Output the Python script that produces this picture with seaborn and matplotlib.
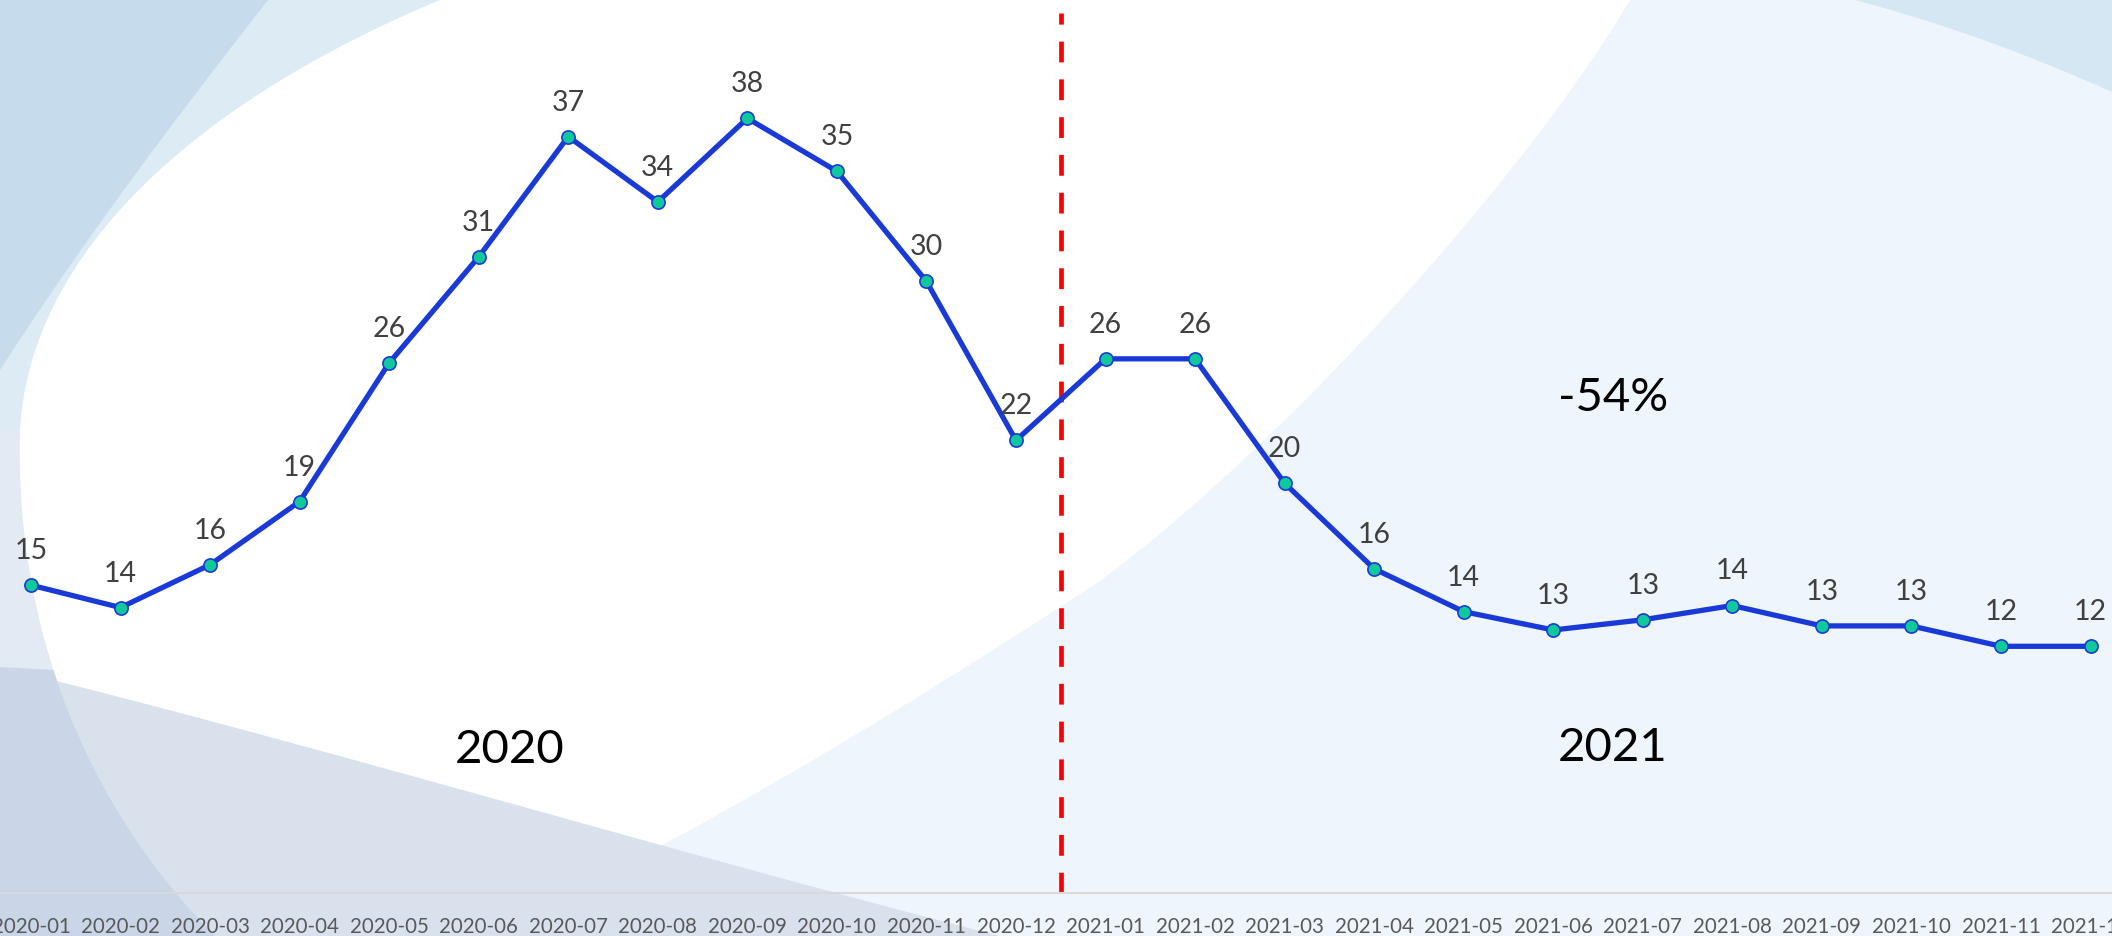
import numpy as np
import pandas as pd
import matplotlib
matplotlib.use("Agg")
import matplotlib.pyplot as plt
from matplotlib.patches import Polygon, Rectangle
import seaborn as sns

# Monthly values, 2020-01 .. 2021-12
months = ['2020-01', '2020-02', '2020-03', '2020-04', '2020-05', '2020-06',
          '2020-07', '2020-08', '2020-09', '2020-10', '2020-11', '2020-12',
          '2021-01', '2021-02', '2021-03', '2021-04', '2021-05', '2021-06',
          '2021-07', '2021-08', '2021-09', '2021-10', '2021-11', '2021-12']
values = [15.1, 14.0, 16.1, 19.2, 26.0, 31.2, 37.1, 33.9, 38.0, 35.4, 30.0, 22.2,
          26.2, 26.2, 20.1, 15.9, 13.8, 12.9, 13.4, 14.1, 13.1, 13.1, 12.1, 12.1]
year_labels = ['2020', '2021']
change_label = '-54%'

df = pd.DataFrame({'month': months, 'value': values})
df['pos'] = np.arange(len(df))

sns.set_theme(style='white')
plt.rcParams['font.family'] = ['Lato', 'DejaVu Sans']


def bez(p0, p1, p2, p3, n=40):
    # cubic bezier points, only used for the decorative background swooshes
    t = np.linspace(0, 1, n)[:, None]
    p0, p1, p2, p3 = map(np.array, (p0, p1, p2, p3))
    return list(map(tuple, (1 - t) ** 3 * p0 + 3 * (1 - t) ** 2 * t * p1
                    + 3 * (1 - t) * t ** 2 * p2 + t ** 3 * p3))


fig = plt.figure(figsize=(21.12, 9.36), dpi=100)

# Decorative background (pixel coordinates, y downwards)
bg = fig.add_axes([0, 0, 1, 1], zorder=0)
bg.set_xlim(0, 2112)
bg.set_ylim(936, 0)
bg.axis('off')
bg.add_patch(Rectangle((0, 0), 2112, 936, color='#EFF5FC', lw=0))
bg.add_patch(Rectangle((0, 0), 520, 430, color='#DDEBF5', lw=0))
bg.add_patch(Rectangle((0, 430), 320, 506, color='#E3EAF3', lw=0))

right_edge = bez((1630, 0), (1530, 170), (1290, 440), (1100, 581)) + \
    bez((1100, 581), (900, 712), (680, 845), (480, 936))
left_low = bez((215, 936), (80, 800), (15, 620), (20, 430))
left_top = bez((20, 430), (30, 250), (200, 100), (440, 0))
bg.add_patch(Polygon([(440, 0)] + right_edge + left_low + left_top, color='white', lw=0))

bg.add_patch(Polygon([(0, 0), (268, 0)] + bez((268, 0), (190, 100), (90, 230), (0, 370))[1:],
                     color='#C6DCEC', lw=0))
band_edge = bez((0, 667), (300, 740), (700, 860), (1000, 936))
bg.add_patch(Polygon(band_edge + [(0, 936)], color='#D9E1ED', lw=0))
dark_edge = [p for p in left_low[::-1] if p[1] >= 667]
bg.add_patch(Polygon([(0, 667)] + dark_edge + [(0, 936)], color='#CAD6E7', lw=0))
bg.add_patch(Polygon([(1855, 0), (2112, 0), (2112, 92)] +
                     bez((2112, 92), (2040, 60), (1960, 28), (1855, 0))[1:],
                     color='#D5E7F3', lw=0))

ax = fig.add_axes([0, 0.04594, 1, 0.95406], zorder=1)
ax.patch.set_alpha(0)

sns.lineplot(data=df, x='pos', y='value', ax=ax, color='#1A3AD8', linewidth=3.8,
             marker='o', markersize=9.5, markerfacecolor='#10C99B',
             markeredgecolor='#1A3AD8', markeredgewidth=1.2, zorder=3)

for p, v in zip(df['pos'], df['value']):
    ax.annotate(f'{v:.0f}', (p, v), xytext=(0, 24.5), textcoords='offset points',
                ha='center', va='center', fontsize=20.5, color='#404040', zorder=4)

# divider between the two years
ax.axvline(11.5, ymin=0, ymax=0.985, color='#FF0000', linewidth=3.4,
           dashes=(4.4, 3.6), zorder=2)

ax.text(5.35, 7.0, year_labels[0], ha='center', va='center', fontsize=34, color='black')
ax.text(17.66, 7.1, year_labels[1], ha='center', va='center', fontsize=34, color='black')
ax.text(17.67, 24.3, change_label, ha='center', va='center', fontsize=34, color='black')

ax.set_xlim(-0.346, 23.24)
ax.set_ylim(0, 43.8)
ax.set_xticks(df['pos'])
ax.set_xticklabels(df['month'])
ax.tick_params(axis='x', length=0, pad=17, labelsize=14.8, labelcolor='#595959')
ax.set_yticks([])
ax.set_xlabel('')
ax.set_ylabel('')
for side in ['top', 'left', 'right']:
    ax.spines[side].set_visible(False)
ax.spines['bottom'].set_color('#D9D9D9')
ax.spines['bottom'].set_linewidth(1.5)

fig.savefig('out.png', dpi=100)
